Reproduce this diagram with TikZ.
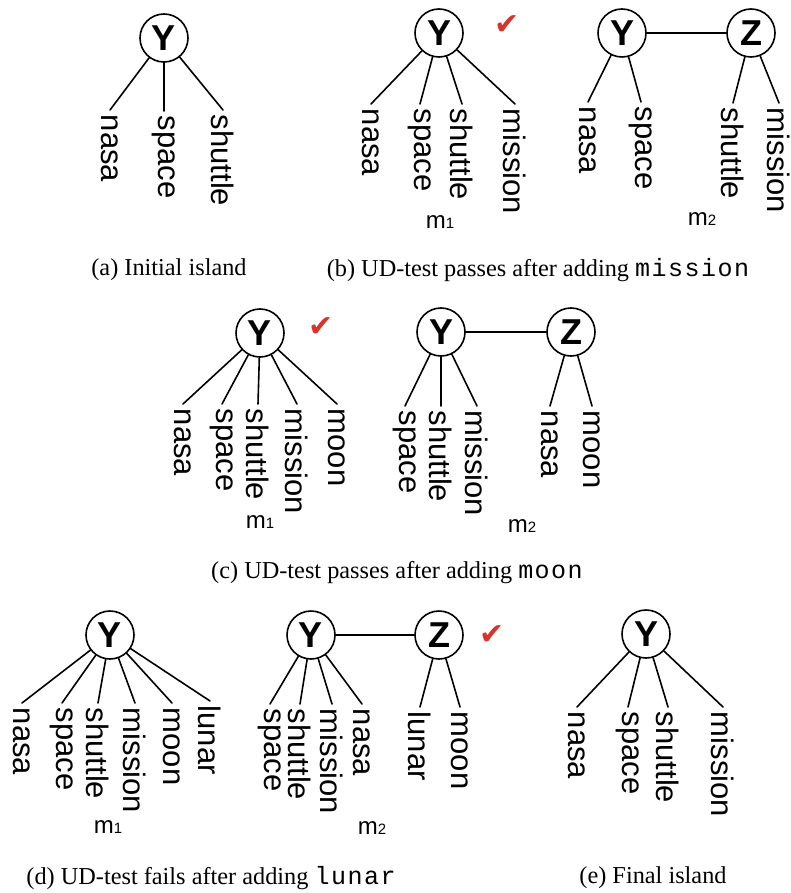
\documentclass[tikz,border=0pt]{standalone}
\usepackage{fontspec}
\setmainfont{Liberation Serif}
\setsansfont{Liberation Sans}
\setmonofont{Liberation Mono}
\newfontfamily\checkfont{DejaVu Sans}
\newfontfamily\codefont[LetterSpace=6]{Liberation Mono}
\definecolor{okred}{RGB}{214,52,44}
\newcommand{\mlab}[1]{m{\fontsize{15}{15}\selectfont #1}}
\newcommand{\code}[1]{{\codefont\fontsize{25}{25}\selectfont #1}}
\begin{document}
\begin{tikzpicture}[x=1pt, y=-1pt, line width=1.6pt, line cap=round,
		var/.style={circle, draw, minimum size=48pt, inner sep=0pt, font=\sffamily\bfseries\fontsize{36}{36}\selectfont},
		word/.style={rotate=-90, anchor=west, inner xsep=4pt, inner ysep=0pt, font=\sffamily\fontsize{31}{31}\selectfont},
		mnode/.style={font=\sffamily\fontsize{24}{24}\selectfont},
		tick/.style={text=okred, font=\checkfont\fontsize{30}{30}\selectfont},
		caption/.style={font=\fontsize{24.3}{24.3}\selectfont}]
		\useasboundingbox (0,0) rectangle (791,893);
		% (a) initial island
		\node[var] (aY) at (164,38) {Y};
		\node[word] (anasa) at (110,110) {nasa};
		\node[word] (aspace) at (164,111) {space};
		\node[word] (ashuttle) at (223,110) {shuttle};
		\draw (aY) -- (anasa.west);
		\draw (aY) -- (aspace.west);
		\draw (aY) -- (ashuttle.west);
		\node[caption] (capa) at (169,270) {(a) Initial island};
		% (b) m1
		\node[var] (b1Y) at (439,33) {Y};
		\node[word] (b1nasa) at (371,104) {nasa};
		\node[word] (b1space) at (420,104) {space};
		\node[word] (b1shuttle) at (462,104) {shuttle};
		\node[word] (b1mission) at (515,104) {mission};
		\draw (b1Y) -- (b1nasa.west);
		\draw (b1Y) -- (b1space.west);
		\draw (b1Y) -- (b1shuttle.west);
		\draw (b1Y) -- (b1mission.west);
		\node[tick] (b1ok) at (507,25) {✔};
		\node[mnode] (b1m) at (440,222) {\mlab{1}};
		% (b) m2
		\node[var] (b2Y) at (622,33) {Y};
		\node[var] (b2Z) at (751,33) {Z};
		\draw (b2Y) -- (b2Z);
		\node[word] (b2nasa) at (588,102) {nasa};
		\node[word] (b2space) at (641,102) {space};
		\node[word] (b2shuttle) at (733,103) {shuttle};
		\node[word] (b2mission) at (779,103) {mission};
		\draw (b2Y) -- (b2nasa.west);
		\draw (b2Y) -- (b2space.west);
		\draw (b2Z) -- (b2shuttle.west);
		\draw (b2Z) -- (b2mission.west);
		\node[mnode] (b2m) at (702,219) {\mlab{2}};
		\node[caption] (capb) at (538,270) {(b) UD-test passes after adding \code{mission}};
		% (c) m1
		\node[var] (c1Y) at (260,333) {Y};
		\node[word] (c1nasa) at (183,404) {nasa};
		\node[word] (c1space) at (222,404) {space};
		\node[word] (c1shuttle) at (258,404) {shuttle};
		\node[word] (c1mission) at (297,404) {mission};
		\node[word] (c1moon) at (337,404) {moon};
		\draw (c1Y) -- (c1nasa.west);
		\draw (c1Y) -- (c1space.west);
		\draw (c1Y) -- (c1shuttle.west);
		\draw (c1Y) -- (c1mission.west);
		\draw (c1Y) -- (c1moon.west);
		\node[tick] (c1ok) at (321,327) {✔};
		\node[mnode] (c1m) at (260,522) {\mlab{1}};
		% (c) m2
		\node[var] (c2Y) at (441,332) {Y};
		\node[var] (c2Z) at (571,332) {Z};
		\draw (c2Y) -- (c2Z);
		\node[word] (c2space) at (405,406) {space};
		\node[word] (c2shuttle) at (441,406) {shuttle};
		\node[word] (c2mission) at (477,406) {mission};
		\node[word] (c2nasa) at (550,406) {nasa};
		\node[word] (c2moon) at (592,406) {moon};
		\draw (c2Y) -- (c2space.west);
		\draw (c2Y) -- (c2shuttle.west);
		\draw (c2Y) -- (c2mission.west);
		\draw (c2Z) -- (c2nasa.west);
		\draw (c2Z) -- (c2moon.west);
		\node[mnode] (c2m) at (522,526) {\mlab{2}};
		\node[caption] (capc) at (397,573) {(c) UD-test passes after adding \code{moon}};
		% (d) m1
		\node[var] (d1Y) at (110,635) {Y};
		\node[word] (d1nasa) at (22,703) {nasa};
		\node[word] (d1space) at (62,703) {space};
		\node[word] (d1shuttle) at (98,703) {shuttle};
		\node[word] (d1mission) at (135,703) {mission};
		\node[word] (d1moon) at (172,703) {moon};
		\node[word] (d1lunar) at (210,701) {lunar};
		\draw (d1Y) -- (d1nasa.west);
		\draw (d1Y) -- (d1space.west);
		\draw (d1Y) -- (d1shuttle.west);
		\draw (d1Y) -- (d1mission.west);
		\draw (d1Y) -- (d1moon.west);
		\draw (d1Y) -- (d1lunar.west);
		\node[mnode] (d1m) at (108,827) {\mlab{1}};
		% (d) m2
		\node[var] (d2Y) at (311,635) {Y};
		\node[var] (d2Z) at (439,635) {Z};
		\draw (d2Y) -- (d2Z);
		\node[word] (d2space) at (270,704) {space};
		\node[word] (d2shuttle) at (300,704) {shuttle};
		\node[word] (d2mission) at (332,704) {mission};
		\node[word] (d2nasa) at (362,704) {nasa};
		\node[word] (d2lunar) at (420,707) {lunar};
		\node[word] (d2moon) at (460,707) {moon};
		\draw (d2Y) -- (d2space.west);
		\draw (d2Y) -- (d2shuttle.west);
		\draw (d2Y) -- (d2mission.west);
		\draw (d2Y) -- (d2nasa.west);
		\draw (d2Z) -- (d2lunar.west);
		\draw (d2Z) -- (d2moon.west);
		\node[tick] (d2ok) at (492,635) {✔};
		\node[mnode] (d2m) at (372,828) {\mlab{2}};
		\node[caption] (capd) at (211,878) {(d) UD-test fails after adding \code{lunar}};
		% (e) final island
		\node[var] (eY) at (646,634) {Y};
		\node[word] (enasa) at (577,707) {nasa};
		\node[word] (espace) at (628,707) {space};
		\node[word] (eshuttle) at (668,707) {shuttle};
		\node[word] (emission) at (723,707) {mission};
		\draw (eY) -- (enasa.west);
		\draw (eY) -- (espace.west);
		\draw (eY) -- (eshuttle.west);
		\draw (eY) -- (emission.west);
		\node[caption] (cape) at (653,878) {(e) Final island};
	\end{tikzpicture}
\end{document}
